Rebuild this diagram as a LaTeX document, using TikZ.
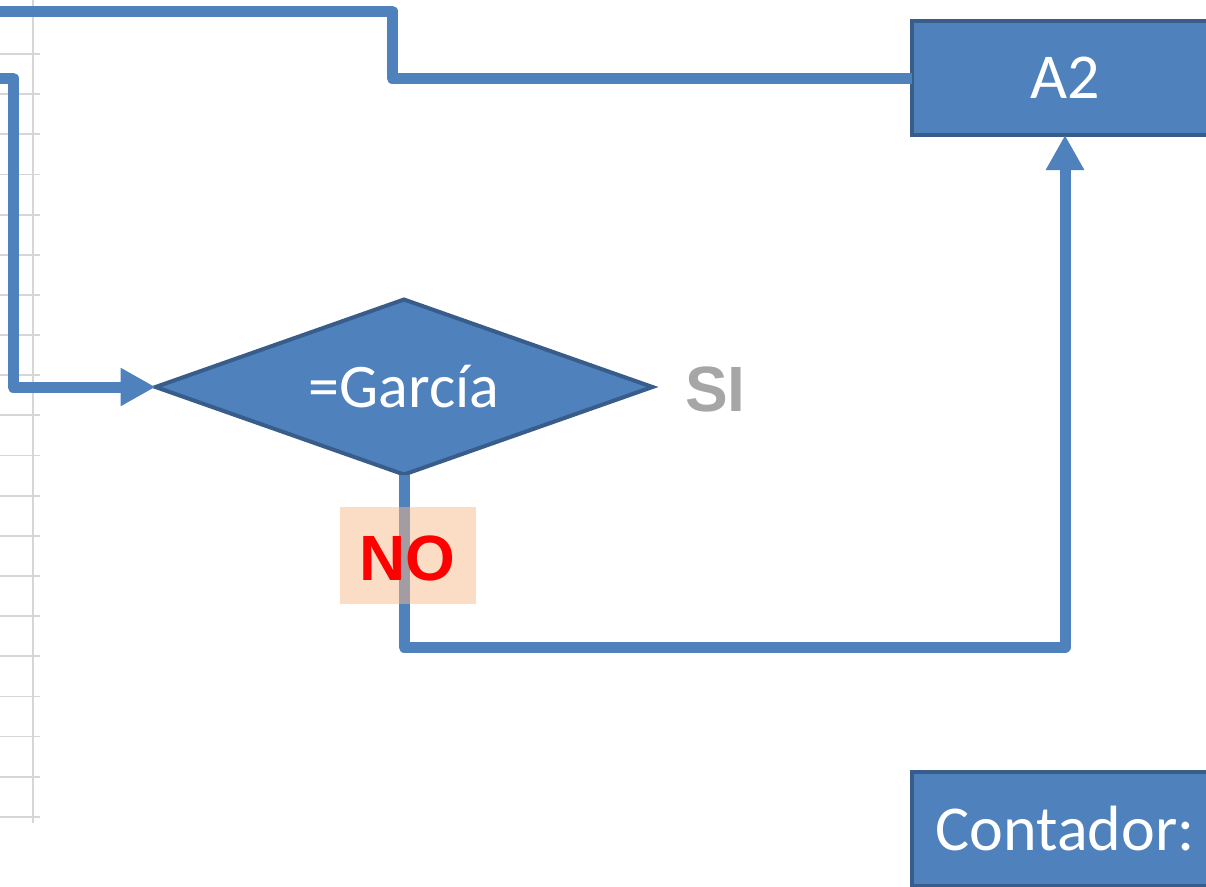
\documentclass[tikz,border=0pt]{standalone}
\usepackage{fontspec}
\setmainfont{Carlito}
\newfontfamily\arialbold{Liberation Sans}[BoldFont={* Bold}]
\usetikzlibrary{shapes.geometric,arrows.meta}
\definecolor{accblue}{RGB}{79,129,189}
\definecolor{accdark}{RGB}{56,93,138}
\definecolor{gridgray}{RGB}{214,214,214}
\definecolor{peach}{RGB}{247,186,138}
\definecolor{sigray}{RGB}{166,166,166}
\tikzset{
  x=1pt, y=-1pt,
  conn/.style={draw=accblue, line width=11pt, line join=round},
  tipa/.style={-{Triangle[length=35pt,width=36pt]}},
  box/.style={rectangle, fill=accblue, draw=accdark, line width=4pt,
    minimum width=306pt, minimum height=114pt, inner sep=0pt, outer sep=0pt,
    text=white, font=\fontsize{64}{70}\selectfont},
  decision/.style={diamond, aspect=2.84, fill=accblue, draw=accdark, line width=4pt,
    minimum width=497pt, minimum height=175pt, inner sep=0pt, outer sep=0pt,
    text=white, font=\fontsize{62}{68}\selectfont},
  gridline/.style={draw=gridgray, line width=1.8pt},
  lbl/.style={font=\arialbold\bfseries\fontsize{64}{70}\selectfont, inner sep=0pt, anchor=base},
}
\begin{document}
\begin{tikzpicture}
\useasboundingbox (0,0) rectangle (1206,886);
% grid
\draw[gridline] (33,0) -- (33,823);
\foreach \k in {0,...,19} {
  \draw[gridline] (0,{54+40.15*\k}) -- (40,{54+40.15*\k});
}
% nodes
\node[box] (a2) at (1065,78) {A2};
\node[box] (cont) at (1065,829) {Contador:};
\node[decision] (garcia) at (404,387) {=García};
\coordinate (s1) at (-10,11);
\coordinate (s2) at (-10,78);
\coordinate (c3) at (1065,647);
% connectors
\draw[conn] (s1) -- (392,11) |- (a2.west);
\draw[conn,tipa] (s2) -- (13,78) |- (garcia.west);
\draw[conn,tipa] (garcia.south) |- (c3) -- (a2.south);
% labels
\node[lbl, text=sigray] (si) at (715.5,411) {SI};
\node[fill=peach, fill opacity=0.5, minimum width=136pt, minimum height=97pt, inner sep=0pt] (nobox) at (408,555.5) {};
\node[lbl, text=red] (no) at (407.5,580) {NO};
\end{tikzpicture}
\end{document}
